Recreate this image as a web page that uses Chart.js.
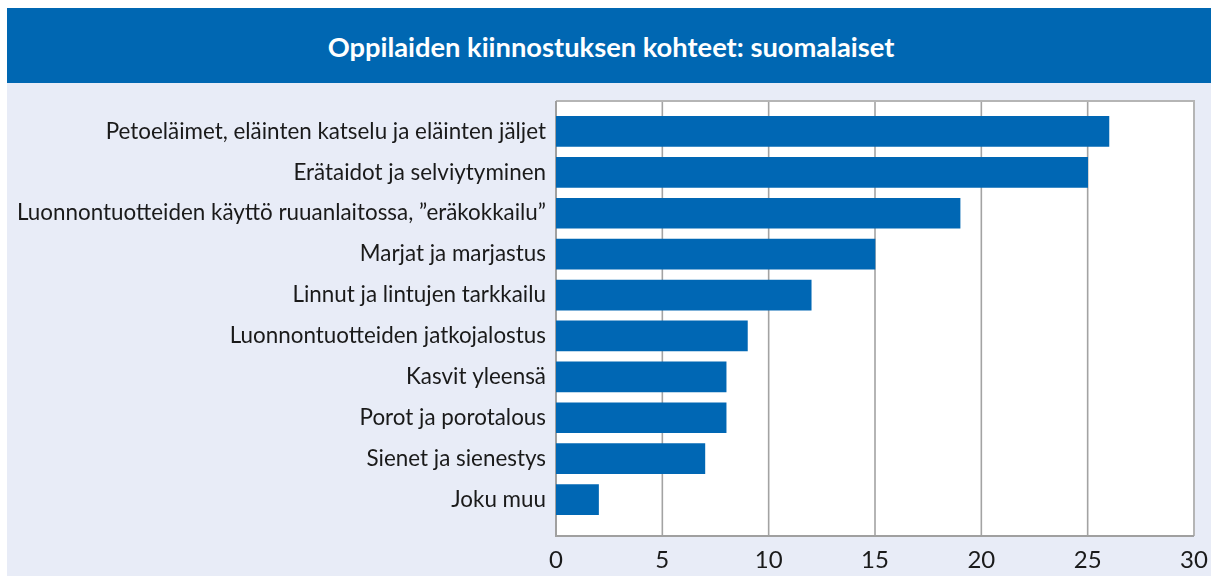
<!DOCTYPE html>
<html>
<head>
<meta charset="utf-8">
<script src="https://cdn.jsdelivr.net/npm/chart.js@4"></script>
<style>
  html, body { margin: 0; padding: 0; background: #ffffff; }
  #wrap { position: relative; width: 1211px; height: 576px; overflow: hidden; }
  #c { position: absolute; left: 0; top: 0; }
  #band { position: absolute; left: 7px; top: 8px; width: 1204px; height: 75px; background: #0067b2;
          color: #ffffff; font-family: Lato, "Open Sans", sans-serif; font-weight: bold; font-size: 27.3px;
          display: flex; align-items: center; justify-content: center; z-index: 2; padding-top: 2px; padding-left: 4px; box-sizing: border-box; }
</style>
</head>
<body>
<div id="wrap">
  <canvas id="c" width="1211" height="576"></canvas>
  <div id="band">Oppilaiden kiinnostuksen kohteet: suomalaiset</div>
</div>
<script>
const categories = [
  "Petoeläimet, eläinten katselu ja eläinten jäljet",
  "Erätaidot ja selviytyminen",
  "Luonnontuotteiden käyttö ruuanlaitossa, ”eräkokkailu”",
  "Marjat ja marjastus",
  "Linnut ja lintujen tarkkailu",
  "Luonnontuotteiden jatkojalostus",
  "Kasvit yleensä",
  "Porot ja porotalous",
  "Sienet ja sienestys",
  "Joku muu"
];
const values = [26, 25, 19, 15, 12, 9, 8, 8, 7, 2];
const xTicks = [0, 5, 10, 15, 20, 25, 30];

const FRAME = { top: 101, bottom: 536 };

const bgPlugin = {
  id: 'bgPlugin',
  beforeDraw(chart) {
    const ctx = chart.ctx;
    const ca = chart.chartArea;
    const xs = chart.scales.x;
    ctx.save();
    ctx.fillStyle = '#e8ecf7';
    ctx.fillRect(7, 83, 1204, 493);
    ctx.fillStyle = '#ffffff';
    ctx.fillRect(ca.left, FRAME.top, ca.right - ca.left, FRAME.bottom - FRAME.top);
    ctx.strokeStyle = '#a3a3a3';
    ctx.lineWidth = 1.6;
    xTicks.forEach(v => {
      const px = xs.getPixelForValue(v);
      ctx.beginPath();
      ctx.moveTo(px, FRAME.top);
      ctx.lineTo(px, FRAME.bottom);
      ctx.stroke();
    });
    ctx.strokeStyle = '#b5b5b5';
    ctx.lineWidth = 2;
    ctx.beginPath();
    ctx.moveTo(ca.left, FRAME.top);
    ctx.lineTo(ca.right, FRAME.top);
    ctx.lineTo(ca.right, FRAME.bottom);
    ctx.stroke();
    ctx.strokeStyle = '#a0a0a0';
    ctx.beginPath();
    ctx.moveTo(ca.left, FRAME.top);
    ctx.lineTo(ca.left, FRAME.bottom);
    ctx.lineTo(ca.right, FRAME.bottom);
    ctx.stroke();
    ctx.restore();
  }
};

new Chart(document.getElementById('c'), {
  type: 'bar',
  data: {
    labels: categories,
    datasets: [{
      data: values,
      backgroundColor: '#0067b4',
      borderWidth: 0,
      barThickness: 30
    }]
  },
  options: {
    indexAxis: 'y',
    responsive: false,
    animation: false,
    layout: { padding: { left: 0, top: 111, right: 17, bottom: 0 } },
    plugins: { legend: { display: false }, tooltip: { enabled: false }, title: { display: false } },
    scales: {
      x: {
        min: 0, max: 30,
        afterFit(s) { s.height = 56; s.paddingLeft = 0; s.paddingRight = 0; },
        afterBuildTicks(s) { s.ticks = xTicks.map(v => ({ value: v })); },
        grid: { display: false, drawTicks: false },
        border: { display: false },
        ticks: { color: '#1a1a1a', font: { family: 'Lato', size: 24 }, padding: 26, maxRotation: 0 }
      },
      y: {
        afterFit(s) { s.width = 556; s.paddingTop = 0; s.paddingBottom = 0; },
        grid: { display: false, drawTicks: false },
        border: { display: false },
        ticks: { color: '#1a1a1a', font: { family: 'Lato', size: 22.4 }, padding: 10 }
      }
    }
  },
  plugins: [bgPlugin]
});
</script>
</body>
</html>
